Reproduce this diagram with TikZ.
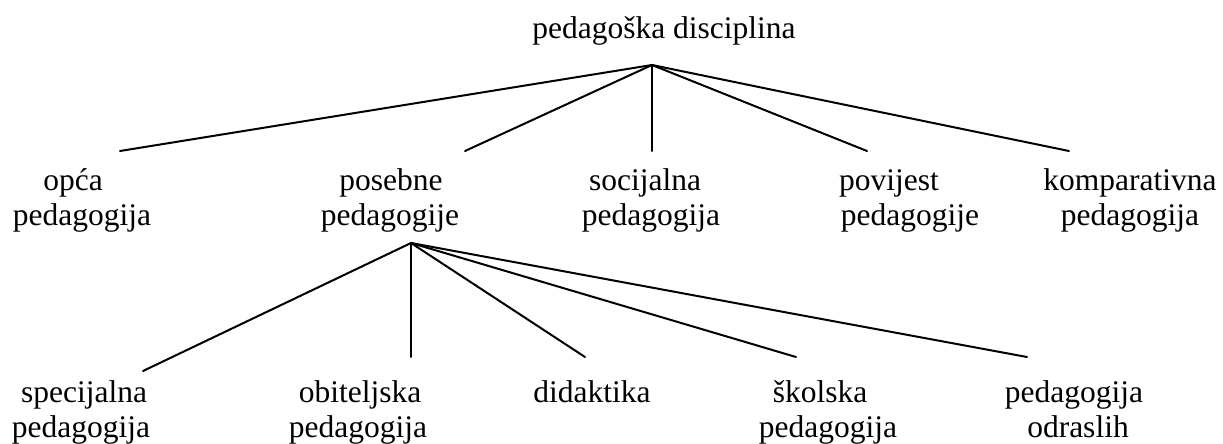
\documentclass[tikz,border=0pt]{standalone}
\usepackage{fontspec}
\setmainfont{Liberation Serif}
\begin{document}
\begin{tikzpicture}[x=1pt,y=-1pt,
  lbl/.style={anchor=base,inner sep=0pt,font=\fontsize{31.5}{35}\selectfont},
  edge/.style={line width=2pt,line cap=round}]
\useasboundingbox (0,0) rectangle (1223,444);
% root
\node[lbl] (root) at (664,39) {pedagoška disciplina};
\coordinate (hubA) at (652,65);
% level 1 ends
\coordinate (eOpca) at (120,151);
\coordinate (ePos) at (465,151);
\coordinate (eSoc) at (652,151);
\coordinate (ePov) at (867,151);
\coordinate (eKomp) at (1069,151);
% level 1 labels
\node[lbl] (opca1) at (73,190) {opća};
\node[lbl] (opca2) at (82,225) {pedagogija};
\node[lbl] (pos1) at (391,190) {posebne};
\node[lbl] (pos2) at (390,225) {pedagogije};
\node[lbl] (soc1) at (645,190) {socijalna};
\node[lbl] (soc2) at (651,225) {pedagogija};
\node[lbl] (pov1) at (889,190) {povijest};
\node[lbl] (pov2) at (910,225) {pedagogije};
\node[lbl] (komp1) at (1130,190) {komparativna};
\node[lbl] (komp2) at (1130,225) {pedagogija};
\draw[edge] (hubA) -- (eOpca);
\draw[edge] (hubA) -- (ePos);
\draw[edge] (hubA) -- (eSoc);
\draw[edge] (hubA) -- (ePov);
\draw[edge] (hubA) -- (eKomp);
% level 2
\coordinate (hubB) at (411,243);
\coordinate (eSpec) at (143,371);
\coordinate (eObit) at (411,357);
\coordinate (eDid) at (585,357);
\coordinate (eSkol) at (796,357);
\coordinate (eOdr) at (1027,357);
\draw[edge] (hubB) -- (eSpec);
\draw[edge] (hubB) -- (eObit);
\draw[edge] (hubB) -- (eDid);
\draw[edge] (hubB) -- (eSkol);
\draw[edge] (hubB) -- (eOdr);
\node[lbl] (spec1) at (84,402) {specijalna};
\node[lbl] (spec2) at (81,437) {pedagogija};
\node[lbl] (obit1) at (360,402) {obiteljska};
\node[lbl] (obit2) at (358,437) {pedagogija};
\node[lbl] (did1) at (592,402) {didaktika};
\node[lbl] (skol1) at (820,402) {školska};
\node[lbl] (skol2) at (828,437) {pedagogija};
\node[lbl] (odr1) at (1074,402) {pedagogija};
\node[lbl] (odr2) at (1078,437) {odraslih};
\end{tikzpicture}
\end{document}
